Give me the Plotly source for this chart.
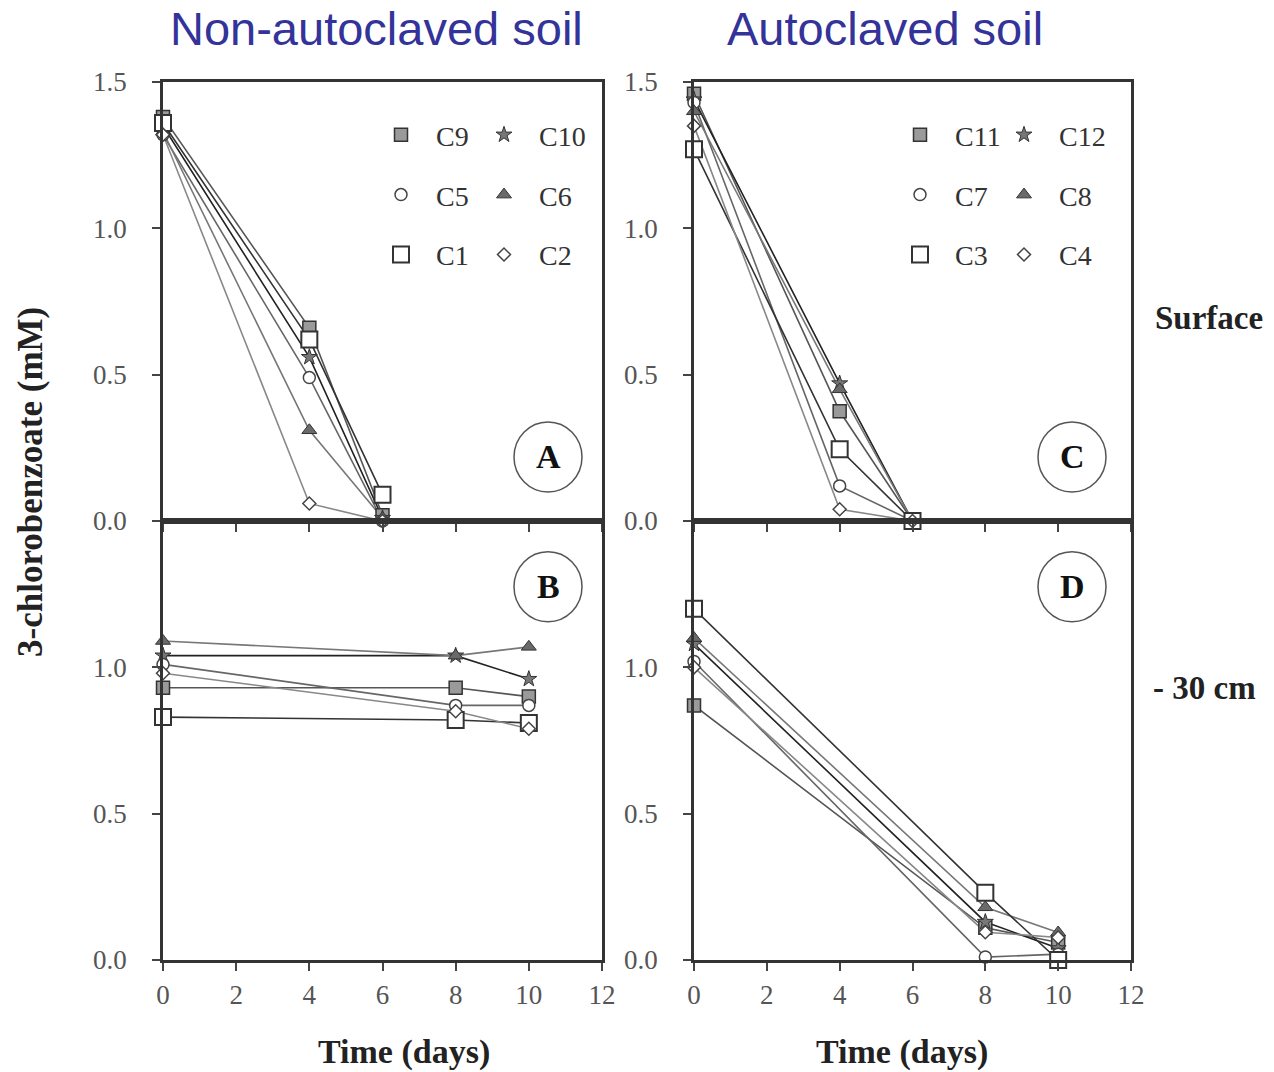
import plotly.graph_objects as go

W, H = 1274, 1072

# ---------------- data ----------------
days_surface = [0, 4, 6]
days_deep = [0, 8, 10]

left_series = ["C9", "C10", "C5", "C6", "C1", "C2"]
right_series = ["C11", "C12", "C7", "C8", "C3", "C4"]

# Panel A: non-autoclaved soil, surface
panel_a = {
    "C9": [1.38, 0.66, 0.02],
    "C10": [1.35, 0.56, 0.01],
    "C5": [1.32, 0.49, 0.00],
    "C6": [1.33, 0.31, 0.01],
    "C1": [1.36, 0.62, 0.09],
    "C2": [1.32, 0.06, 0.00],
}
# Panel B: non-autoclaved soil, -30 cm
panel_b = {
    "C9": [0.93, 0.93, 0.90],
    "C10": [1.04, 1.04, 0.96],
    "C5": [1.01, 0.87, 0.87],
    "C6": [1.09, 1.04, 1.07],
    "C1": [0.83, 0.82, 0.81],
    "C2": [0.98, 0.85, 0.79],
}
# Panel C: autoclaved soil, surface
panel_c = {
    "C11": [1.46, 0.375, 0.00],
    "C12": [1.44, 0.47, 0.00],
    "C7": [1.43, 0.12, 0.00],
    "C8": [1.40, 0.45, 0.00],
    "C3": [1.27, 0.245, 0.00],
    "C4": [1.35, 0.04, 0.00],
}
# Panel D: autoclaved soil, -30 cm
panel_d = {
    "C11": [0.87, 0.11, 0.06],
    "C12": [1.08, 0.13, 0.04],
    "C7": [1.02, 0.01, 0.02],
    "C8": [1.10, 0.18, 0.094],
    "C3": [1.20, 0.23, 0.00],
    "C4": [1.00, 0.095, 0.077],
}

x_ticks = [0, 2, 4, 6, 8, 10, 12]
y_ticks_top = [0, 0.5, 1.0, 1.5]
y_ticks_bottom = [0, 0.5, 1.0]

# ---------------- styles ----------------
def px_x(p):
    return p / W

def px_y(p):
    return 1 - p / H

SERIF = "Liberation Serif, Times New Roman, serif"
SANS = "Liberation Sans, Arial, sans-serif"

marker_style = {
    "hsq": dict(symbol="square", size=13, color="#9a9a9a", line=dict(color="#333", width=1.5)),
    "star": dict(symbol="star", size=12, color="#777", line=dict(color="#333", width=1)),
    "circ": dict(symbol="circle", size=12, color="white", line=dict(color="#444", width=1.5)),
    "tri": dict(symbol="triangle-up", size=13, color="#6a6a6a", line=dict(color="#333", width=1)),
    "osq": dict(symbol="square", size=16, color="white", line=dict(color="#333", width=2)),
    "dia": dict(symbol="diamond", size=10, color="white", line=dict(color="#444", width=1.5)),
}
kinds = ["hsq", "star", "circ", "tri", "osq", "dia"]
line_colors = ["#555", "#222", "#666", "#777", "#333", "#888"]

fig = go.Figure()

def add_panel(data, names, days, xa, ya, legends):
    # lines first
    for i, n in enumerate(names):
        fig.add_trace(go.Scatter(
            x=days, y=data[n], mode="lines", xaxis=xa, yaxis=ya,
            line=dict(color=line_colors[i], width=1.6),
            showlegend=False, cliponaxis=False, hoverinfo="skip"))
    for i, n in enumerate(names):
        show = legends is not None
        kw = {}
        if show:
            kw = dict(legend=legends[i % 2], legendgroup=n, name=n)
        fig.add_trace(go.Scatter(
            x=days, y=data[n], mode="markers", xaxis=xa, yaxis=ya,
            marker=marker_style[kinds[i]], showlegend=show,
            cliponaxis=False, **kw))

add_panel(panel_a, left_series, days_surface, "x", "y", ["legend", "legend2"])
add_panel(panel_b, left_series, days_deep, "x2", "y2", None)
add_panel(panel_c, right_series, days_surface, "x3", "y3", ["legend3", "legend4"])
add_panel(panel_d, right_series, days_deep, "x4", "y4", None)

# ---------------- axes ----------------
left_dom = [px_x(163), px_x(602)]
right_dom = [px_x(694), px_x(1131)]
top_dom = [px_y(521), px_y(82)]
bot_dom = [px_y(960), px_y(521)]

axis_common = dict(showgrid=False, zeroline=False, showline=True, mirror=True,
                   linecolor="#333", linewidth=2.5, ticks="outside", tickcolor="#444",
                   tickwidth=1.5, ticklen=8, automargin=False,
                   tickfont=dict(family=SERIF, size=27, color="#555"))

def xaxis_cfg(dom, anchor, labels):
    d = dict(axis_common)
    d.update(domain=dom, anchor=anchor, range=[0, 12], tickvals=x_ticks,
             showticklabels=labels, ticklabelstandoff=1)
    return d

def yaxis_cfg(dom, anchor, vals):
    d = dict(axis_common)
    d.update(domain=dom, anchor=anchor, range=[0, 1.5], tickvals=vals,
             ticktext=["%.1f" % v for v in vals], ticklabelstandoff=20)
    return d

fig.update_layout(
    xaxis=xaxis_cfg(left_dom, "y", False),
    yaxis=yaxis_cfg(top_dom, "x", y_ticks_top),
    xaxis2=xaxis_cfg(left_dom, "y2", True),
    yaxis2=yaxis_cfg(bot_dom, "x2", y_ticks_bottom),
    xaxis3=xaxis_cfg(right_dom, "y3", False),
    yaxis3=yaxis_cfg(top_dom, "x3", y_ticks_top),
    xaxis4=xaxis_cfg(right_dom, "y4", True),
    yaxis4=yaxis_cfg(bot_dom, "x4", y_ticks_bottom),
)

# ---------------- legends ----------------
leg_common = dict(orientation="v", bgcolor="rgba(0,0,0,0)", borderwidth=0,
                  itemwidth=60, tracegroupgap=20.5, yanchor="top", xanchor="left",
                  font=dict(family=SERIF, size=28, color="#333"), itemclick=False)
leg_top = px_y(110)
fig.update_layout(
    legend=dict(leg_common, x=px_x(401 - 35), y=leg_top),
    legend2=dict(leg_common, x=px_x(504 - 35), y=leg_top),
    legend3=dict(leg_common, x=px_x(920 - 35), y=leg_top),
    legend4=dict(leg_common, x=px_x(1024 - 35), y=leg_top),
)

# ---------------- panel letters ----------------
shapes = []
annotations = []
letters = [("A", "x", "y", 0.877, 0.146), ("B", "x2", "y2", 0.877, 0.85),
           ("C", "x3", "y3", 0.865, 0.146), ("D", "x4", "y4", 0.865, 0.85)]
for letter, xa, ya, cx, cy in letters:
    shapes.append(dict(type="circle", xref=xa + " domain", yref=ya + " domain",
                       xsizemode="pixel", ysizemode="pixel", xanchor=cx, yanchor=cy,
                       x0=-34, x1=34, y0=-35, y1=35,
                       line=dict(color="#555", width=1.5)))
    annotations.append(dict(text="<b>%s</b>" % letter, xref=xa + " domain", yref=ya + " domain",
                            x=cx, y=cy, xanchor="center", yanchor="middle", showarrow=False,
                            font=dict(family=SERIF, size=34, color="#111")))

def label(text, x, y, size, family, color, angle=0, xanchor="center"):
    return dict(text=text, x=px_x(x), y=px_y(y), xref="paper", yref="paper",
                xanchor=xanchor, yanchor="middle", textangle=angle, showarrow=False,
                font=dict(family=family, size=size, color=color))

annotations += [
    label("Non-autoclaved soil", 376, 28, 47, SANS, "#333399"),
    label("Autoclaved soil", 885, 28, 47, SANS, "#333399"),
    label("<b>3-chlorobenzoate (mM)</b>", 30, 482, 35, SERIF, "#222", angle=-90),
    label("<b>Time (days)</b>", 404, 1052, 34, SERIF, "#222"),
    label("<b>Time (days)</b>", 902, 1052, 34, SERIF, "#222"),
    label("<b>Surface</b>", 1153, 318, 33, SERIF, "#222", xanchor="left"),
    label("<b>- 30 cm</b>", 1151, 688, 33, SERIF, "#222", xanchor="left"),
]

fig.update_layout(
    width=W, height=H, margin=dict(l=0, r=0, t=0, b=0, autoexpand=False),
    paper_bgcolor="white", plot_bgcolor="white",
    shapes=shapes, annotations=annotations,
)

# the page body has a default 8px margin; remove it so the figure fills the window
fig.write_html("out.html",
               config={"displayModeBar": False},
               post_script="document.body.style.margin='0';document.body.style.overflow='hidden';")
